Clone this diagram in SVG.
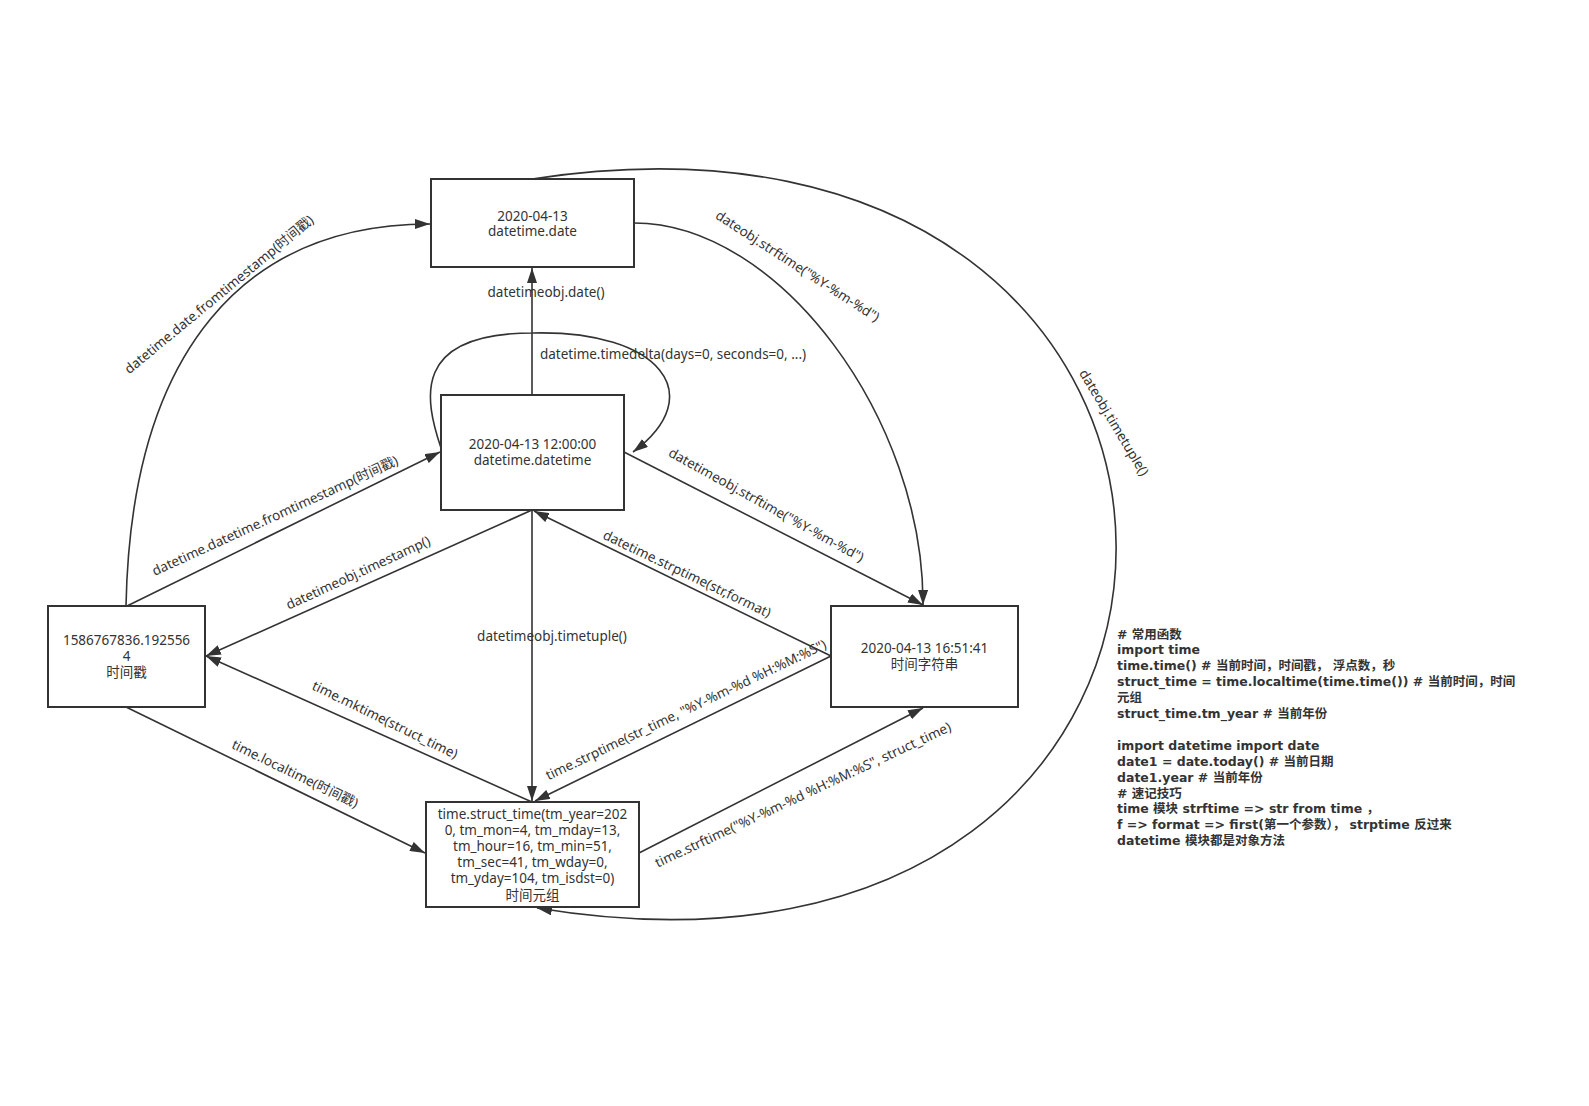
<svg xmlns="http://www.w3.org/2000/svg" width="1589" height="1106" viewBox="0 0 1589 1106">
  <style>
    .box { fill: #ffffff; stroke: #333333; stroke-width: 2; }
    .edge { fill: none; stroke: #333333; stroke-width: 1.6; }
    .txt { font-family: "Noto Sans", "Noto Sans CJK SC", sans-serif; font-size: 13.5px; fill: #333333; }
    .mid { text-anchor: middle; }
    .note { font-family: "DejaVu Sans", "Noto Sans CJK SC", sans-serif; font-size: 12.5px; font-weight: bold; fill: #333333; }
  </style>
  <defs>
    <marker id="arrow" markerUnits="userSpaceOnUse" markerWidth="15" markerHeight="10" refX="15" refY="5" orient="auto">
      <path d="M0,0 L15,5 L0,10 z" fill="#333333"/>
    </marker>
  </defs>
  <rect width="1589" height="1106" fill="#ffffff"/>

  <!-- connectors -->
  <g id="connectors">
    <path class="edge" d="M532,395 L532,268" marker-end="url(#arrow)"/>
    <path class="edge" d="M441,448 C425,400 410,333 533,333 C660,330 710,395 633,452" marker-end="url(#arrow)"/>
    <path class="edge" d="M126,606 C131,350 245,224 430,224" marker-end="url(#arrow)"/>
    <path class="edge" d="M127,606 L440,452" marker-end="url(#arrow)"/>
    <path class="edge" d="M532,510 L206,656" marker-end="url(#arrow)"/>
    <path class="edge" d="M532,802 L206,656" marker-end="url(#arrow)"/>
    <path class="edge" d="M126,707 L425,853" marker-end="url(#arrow)"/>
    <path class="edge" d="M532,510 L532,801" marker-end="url(#arrow)"/>
    <path class="edge" d="M831,656 L534,511" marker-end="url(#arrow)"/>
    <path class="edge" d="M831,656 L535,801" marker-end="url(#arrow)"/>
    <path class="edge" d="M624,452 L923,605" marker-end="url(#arrow)"/>
    <path class="edge" d="M634,223 C780,223 924,420 923,605" marker-end="url(#arrow)"/>
    <path class="edge" d="M532,179 C1310,60 1310,1036 537,908" marker-end="url(#arrow)"/>
    <path class="edge" d="M639,853 L923,708" marker-end="url(#arrow)"/>

    <!-- connector labels -->
    <text class="txt mid" transform="translate(222,298) rotate(-39.5)">datetime.date.fromtimestamp(时间戳)</text>
    <text class="txt mid" transform="translate(277,520) rotate(-24.6)">datetime.datetime.fromtimestamp(时间戳)</text>
    <text class="txt mid" transform="translate(360,577) rotate(-24.7)">datetimeobj.timestamp()</text>
    <text class="txt mid" transform="translate(383,724) rotate(26)">time.mktime(struct_time)</text>
    <text class="txt mid" transform="translate(293,778) rotate(25.9)">time.localtime(时间戳)</text>
    <text class="txt mid" transform="translate(685,578) rotate(25.6)">datetime.strptime(str,format)</text>
    <text class="txt mid" transform="translate(688,714) rotate(-25.4)">time.strptime(str_time, "%Y-%m-%d %H:%M:%S")</text>
    <text class="txt mid" transform="translate(764,509) rotate(29)">datetimeobj.strftime("%Y-%m-%d")</text>
    <text class="txt mid" transform="translate(795,270) rotate(33)">dateobj.strftime("%Y-%m-%d")</text>
    <text class="txt mid" transform="translate(805,799) rotate(-25)">time.strftime("%Y-%m-%d %H:%M:%S", struct_time)</text>
    <text class="txt mid" transform="translate(1110,425) rotate(59)">dateobj.timetuple()</text>
    <text class="txt mid" x="546" y="297">datetimeobj.date()</text>
    <text class="txt mid" x="673" y="359">datetime.timedelta(days=0, seconds=0, ...)</text>
    <text class="txt mid" x="552" y="641">datetimeobj.timetuple()</text>
  </g>

  <!-- nodes -->
  <g id="node-date">
    <rect class="box" x="431" y="179" width="203" height="88"/>
    <text class="txt mid" x="532.5" y="220.5">2020-04-13</text>
    <text class="txt mid" x="532.5" y="236">datetime.date</text>
  </g>
  <g id="node-datetime">
    <rect class="box" x="441" y="395" width="183" height="115"/>
    <text class="txt mid" x="532.5" y="449">2020-04-13 12:00:00</text>
    <text class="txt mid" x="532.5" y="464.5">datetime.datetime</text>
  </g>
  <g id="node-timestamp">
    <rect class="box" x="48" y="606" width="157" height="101"/>
    <text class="txt mid" x="126.5" y="644.5">1586767836.192556</text>
    <text class="txt mid" x="126.5" y="660.5">4</text>
    <text class="txt mid" x="126.5" y="676.5">时间戳</text>
  </g>
  <g id="node-string">
    <rect class="box" x="831" y="606" width="187" height="101"/>
    <text class="txt mid" x="924.5" y="652.5">2020-04-13 16:51:41</text>
    <text class="txt mid" x="924.5" y="668.5">时间字符串</text>
  </g>
  <g id="node-struct-time">
    <rect class="box" x="426" y="802" width="213" height="105"/>
    <text class="txt mid" x="532.5" y="818.5">time.struct_time(tm_year=202</text>
    <text class="txt mid" x="532.5" y="834.7">0, tm_mon=4, tm_mday=13,</text>
    <text class="txt mid" x="532.5" y="850.9">tm_hour=16, tm_min=51,</text>
    <text class="txt mid" x="532.5" y="867.1">tm_sec=41, tm_wday=0,</text>
    <text class="txt mid" x="532.5" y="883.3">tm_yday=104, tm_isdst=0)</text>
    <text class="txt mid" x="532.5" y="899.5">时间元组</text>
  </g>

  <!-- notes -->
  <g id="notes">
    <text class="note" x="1117" y="638.5">
      <tspan x="1117" y="638.5"># 常用函数</tspan>
      <tspan x="1117" y="654.4">import time</tspan>
      <tspan x="1117" y="670.3">time.time() # 当前时间，时间戳， 浮点数，秒</tspan>
      <tspan x="1117" y="686.2">struct_time = time.localtime(time.time()) # 当前时间，时间</tspan>
      <tspan x="1117" y="702.1">元组</tspan>
      <tspan x="1117" y="718">struct_time.tm_year # 当前年份</tspan>
      <tspan x="1117" y="749.8">import datetime import date</tspan>
      <tspan x="1117" y="765.7">date1 = date.today() # 当前日期</tspan>
      <tspan x="1117" y="781.6">date1.year # 当前年份</tspan>
      <tspan x="1117" y="797.5"># 速记技巧</tspan>
      <tspan x="1117" y="813.4">time 模块 strftime =&gt; str from time ，</tspan>
      <tspan x="1117" y="829.3">f =&gt; format =&gt; first(第一个参数）， strptime 反过来</tspan>
      <tspan x="1117" y="845.2">datetime 模块都是对象方法</tspan>
    </text>
  </g>
</svg>
